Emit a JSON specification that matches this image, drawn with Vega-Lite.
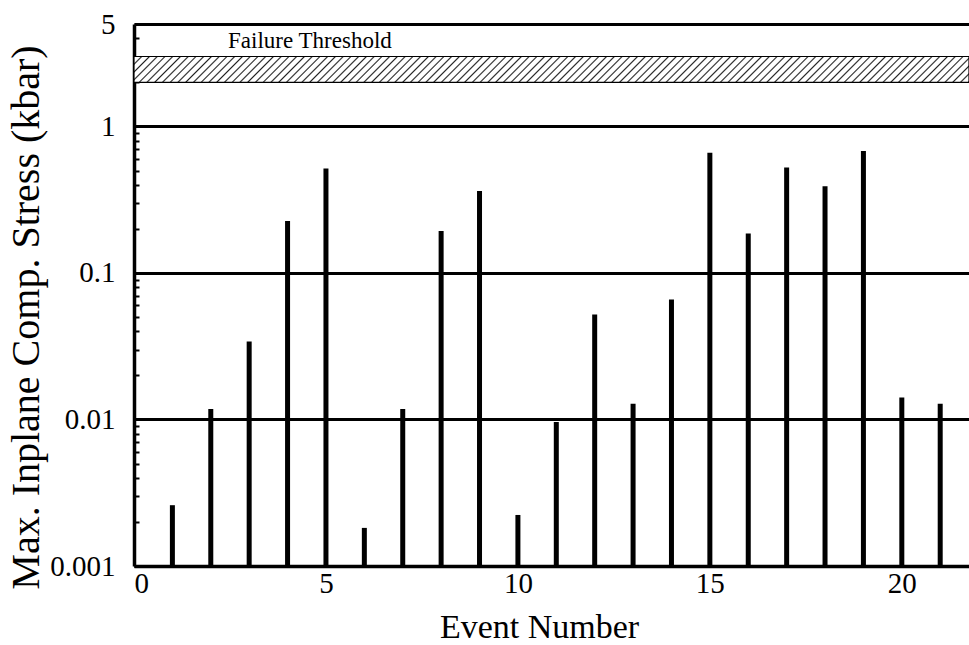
{
  "$schema": "https://vega.github.io/schema/vega-lite/v6.json",
  "width": 835,
  "height": 542,
  "autosize": {"type": "none"},
  "padding": {"left": 134, "top": 24, "right": 0, "bottom": 79},
  "config": {"view": {"stroke": null}, "font": "Liberation Serif"},
  "data": {"values": [
    {"event": 1, "stress": 0.0026},
    {"event": 2, "stress": 0.0118},
    {"event": 3, "stress": 0.034},
    {"event": 4, "stress": 0.226},
    {"event": 5, "stress": 0.517},
    {"event": 6, "stress": 0.00182},
    {"event": 7, "stress": 0.0118},
    {"event": 8, "stress": 0.193},
    {"event": 9, "stress": 0.362},
    {"event": 10, "stress": 0.00223},
    {"event": 11, "stress": 0.0096},
    {"event": 12, "stress": 0.052},
    {"event": 13, "stress": 0.0128},
    {"event": 14, "stress": 0.066},
    {"event": 15, "stress": 0.662},
    {"event": 16, "stress": 0.186},
    {"event": 17, "stress": 0.525},
    {"event": 18, "stress": 0.391},
    {"event": 19, "stress": 0.679},
    {"event": 20, "stress": 0.0141},
    {"event": 21, "stress": 0.0128}
  ]},
  "layer": [
    {
      "mark": {"type": "rule", "strokeWidth": 5, "color": "black", "strokeCap": "butt"},
      "encoding": {
        "x": {
          "field": "event", "type": "quantitative",
          "scale": {"domain": [0, 21.75], "nice": false, "zero": false},
          "axis": {
            "title": "Event Number", "values": [0, 5, 10, 15, 20], "ticks": false, "grid": false,
            "domainColor": "black", "domainWidth": 3.5,
            "labelFontSize": 29, "labelColor": "black", "labelPadding": 3, "labelFont": "Liberation Serif",
            "titleFontSize": 34, "titleFontWeight": "normal", "titleColor": "black", "titleFont": "Liberation Serif",
            "titlePadding": 12, "titleX": 405
          }
        },
        "y": {
          "field": "stress", "type": "quantitative",
          "scale": {"type": "log", "domain": [0.001, 5], "nice": false},
          "axis": {
            "title": "Max. Inplane Comp. Stress (kbar)",
            "values": [0.001, 0.002, 0.003, 0.004, 0.005, 0.006, 0.007, 0.008, 0.009, 0.01, 0.02, 0.03, 0.04, 0.05, 0.06, 0.07, 0.08, 0.09, 0.1, 0.2, 0.3, 0.4, 0.5, 0.6, 0.7, 0.8, 0.9, 1, 2, 3, 4, 5],
            "labelExpr": "indexof([0.001, 0.01, 0.1, 1, 5], datum.value) >= 0 ? '' + datum.value : ''",
            "tickSize": -5, "tickWidth": 2, "tickColor": "black",
            "grid": true, "gridColor": "black", "gridWidth": 3,
            "gridOpacity": {"condition": {"test": "indexof([0.001, 0.01, 0.1, 1, 5], datum.value) >= 0", "value": 1}, "value": 0},
            "domainColor": "black", "domainWidth": 3.5,
            "labelFontSize": 29, "labelColor": "black", "labelPadding": 24, "labelFont": "Liberation Serif",
            "titleFontSize": 40, "titleFontWeight": "normal", "titleColor": "black", "titleFont": "Liberation Serif",
            "titlePadding": 3, "titleY": 293
          }
        },
        "y2": {"datum": 0.001}
      }
    },
    {
      "data": {"values": [{"lo": 2, "hi": 3}]},
      "mark": {"type": "rect", "stroke": "black", "strokeWidth": 1.2, "fill": {"gradient": "linear", "x1": 0, "y1": 0, "x2": 1.03, "y2": 0.0318, "stops": [
        {"offset":0,"color":"#222"},{"offset":0.0018,"color":"#fff"},{"offset":0.0072,"color":"#fff"},
        {"offset":0.009,"color":"#222"},{"offset":0.0108,"color":"#fff"},{"offset":0.0162,"color":"#fff"},
        {"offset":0.018,"color":"#222"},{"offset":0.0198,"color":"#fff"},{"offset":0.0252,"color":"#fff"},
        {"offset":0.027,"color":"#222"},{"offset":0.0288,"color":"#fff"},{"offset":0.0342,"color":"#fff"},
        {"offset":0.036,"color":"#222"},{"offset":0.0378,"color":"#fff"},{"offset":0.0432,"color":"#fff"},
        {"offset":0.045,"color":"#222"},{"offset":0.0468,"color":"#fff"},{"offset":0.0522,"color":"#fff"},
        {"offset":0.054,"color":"#222"},{"offset":0.0558,"color":"#fff"},{"offset":0.0612,"color":"#fff"},
        {"offset":0.063,"color":"#222"},{"offset":0.0648,"color":"#fff"},{"offset":0.0702,"color":"#fff"},
        {"offset":0.072,"color":"#222"},{"offset":0.0738,"color":"#fff"},{"offset":0.0792,"color":"#fff"},
        {"offset":0.081,"color":"#222"},{"offset":0.0828,"color":"#fff"},{"offset":0.0882,"color":"#fff"},
        {"offset":0.09,"color":"#222"},{"offset":0.0918,"color":"#fff"},{"offset":0.0972,"color":"#fff"},
        {"offset":0.099,"color":"#222"},{"offset":0.1008,"color":"#fff"},{"offset":0.1062,"color":"#fff"},
        {"offset":0.108,"color":"#222"},{"offset":0.1098,"color":"#fff"},{"offset":0.1152,"color":"#fff"},
        {"offset":0.117,"color":"#222"},{"offset":0.1188,"color":"#fff"},{"offset":0.1242,"color":"#fff"},
        {"offset":0.126,"color":"#222"},{"offset":0.1278,"color":"#fff"},{"offset":0.1332,"color":"#fff"},
        {"offset":0.135,"color":"#222"},{"offset":0.1368,"color":"#fff"},{"offset":0.1422,"color":"#fff"},
        {"offset":0.144,"color":"#222"},{"offset":0.1458,"color":"#fff"},{"offset":0.1512,"color":"#fff"},
        {"offset":0.153,"color":"#222"},{"offset":0.1548,"color":"#fff"},{"offset":0.1602,"color":"#fff"},
        {"offset":0.162,"color":"#222"},{"offset":0.1638,"color":"#fff"},{"offset":0.1692,"color":"#fff"},
        {"offset":0.171,"color":"#222"},{"offset":0.1728,"color":"#fff"},{"offset":0.1782,"color":"#fff"},
        {"offset":0.18,"color":"#222"},{"offset":0.1818,"color":"#fff"},{"offset":0.1872,"color":"#fff"},
        {"offset":0.189,"color":"#222"},{"offset":0.1908,"color":"#fff"},{"offset":0.1962,"color":"#fff"},
        {"offset":0.198,"color":"#222"},{"offset":0.1998,"color":"#fff"},{"offset":0.2052,"color":"#fff"},
        {"offset":0.207,"color":"#222"},{"offset":0.2088,"color":"#fff"},{"offset":0.2142,"color":"#fff"},
        {"offset":0.216,"color":"#222"},{"offset":0.2178,"color":"#fff"},{"offset":0.2232,"color":"#fff"},
        {"offset":0.225,"color":"#222"},{"offset":0.2268,"color":"#fff"},{"offset":0.2322,"color":"#fff"},
        {"offset":0.234,"color":"#222"},{"offset":0.2358,"color":"#fff"},{"offset":0.2412,"color":"#fff"},
        {"offset":0.243,"color":"#222"},{"offset":0.2448,"color":"#fff"},{"offset":0.2502,"color":"#fff"},
        {"offset":0.252,"color":"#222"},{"offset":0.2538,"color":"#fff"},{"offset":0.2592,"color":"#fff"},
        {"offset":0.261,"color":"#222"},{"offset":0.2628,"color":"#fff"},{"offset":0.2682,"color":"#fff"},
        {"offset":0.27,"color":"#222"},{"offset":0.2718,"color":"#fff"},{"offset":0.2772,"color":"#fff"},
        {"offset":0.279,"color":"#222"},{"offset":0.2808,"color":"#fff"},{"offset":0.2862,"color":"#fff"},
        {"offset":0.288,"color":"#222"},{"offset":0.2898,"color":"#fff"},{"offset":0.2952,"color":"#fff"},
        {"offset":0.297,"color":"#222"},{"offset":0.2988,"color":"#fff"},{"offset":0.3042,"color":"#fff"},
        {"offset":0.306,"color":"#222"},{"offset":0.3078,"color":"#fff"},{"offset":0.3132,"color":"#fff"},
        {"offset":0.315,"color":"#222"},{"offset":0.3168,"color":"#fff"},{"offset":0.3222,"color":"#fff"},
        {"offset":0.324,"color":"#222"},{"offset":0.3258,"color":"#fff"},{"offset":0.3312,"color":"#fff"},
        {"offset":0.333,"color":"#222"},{"offset":0.3348,"color":"#fff"},{"offset":0.3402,"color":"#fff"},
        {"offset":0.342,"color":"#222"},{"offset":0.3438,"color":"#fff"},{"offset":0.3492,"color":"#fff"},
        {"offset":0.351,"color":"#222"},{"offset":0.3528,"color":"#fff"},{"offset":0.3582,"color":"#fff"},
        {"offset":0.36,"color":"#222"},{"offset":0.3618,"color":"#fff"},{"offset":0.3672,"color":"#fff"},
        {"offset":0.369,"color":"#222"},{"offset":0.3708,"color":"#fff"},{"offset":0.3762,"color":"#fff"},
        {"offset":0.378,"color":"#222"},{"offset":0.3798,"color":"#fff"},{"offset":0.3852,"color":"#fff"},
        {"offset":0.387,"color":"#222"},{"offset":0.3888,"color":"#fff"},{"offset":0.3942,"color":"#fff"},
        {"offset":0.396,"color":"#222"},{"offset":0.3978,"color":"#fff"},{"offset":0.4032,"color":"#fff"},
        {"offset":0.405,"color":"#222"},{"offset":0.4068,"color":"#fff"},{"offset":0.4122,"color":"#fff"},
        {"offset":0.414,"color":"#222"},{"offset":0.4158,"color":"#fff"},{"offset":0.4212,"color":"#fff"},
        {"offset":0.423,"color":"#222"},{"offset":0.4248,"color":"#fff"},{"offset":0.4302,"color":"#fff"},
        {"offset":0.432,"color":"#222"},{"offset":0.4338,"color":"#fff"},{"offset":0.4392,"color":"#fff"},
        {"offset":0.441,"color":"#222"},{"offset":0.4428,"color":"#fff"},{"offset":0.4482,"color":"#fff"},
        {"offset":0.45,"color":"#222"},{"offset":0.4518,"color":"#fff"},{"offset":0.4572,"color":"#fff"},
        {"offset":0.459,"color":"#222"},{"offset":0.4608,"color":"#fff"},{"offset":0.4662,"color":"#fff"},
        {"offset":0.468,"color":"#222"},{"offset":0.4698,"color":"#fff"},{"offset":0.4752,"color":"#fff"},
        {"offset":0.477,"color":"#222"},{"offset":0.4788,"color":"#fff"},{"offset":0.4842,"color":"#fff"},
        {"offset":0.486,"color":"#222"},{"offset":0.4878,"color":"#fff"},{"offset":0.4932,"color":"#fff"},
        {"offset":0.495,"color":"#222"},{"offset":0.4968,"color":"#fff"},{"offset":0.5022,"color":"#fff"},
        {"offset":0.504,"color":"#222"},{"offset":0.5058,"color":"#fff"},{"offset":0.5112,"color":"#fff"},
        {"offset":0.513,"color":"#222"},{"offset":0.5148,"color":"#fff"},{"offset":0.5202,"color":"#fff"},
        {"offset":0.522,"color":"#222"},{"offset":0.5238,"color":"#fff"},{"offset":0.5292,"color":"#fff"},
        {"offset":0.531,"color":"#222"},{"offset":0.5328,"color":"#fff"},{"offset":0.5382,"color":"#fff"},
        {"offset":0.54,"color":"#222"},{"offset":0.5418,"color":"#fff"},{"offset":0.5472,"color":"#fff"},
        {"offset":0.549,"color":"#222"},{"offset":0.5508,"color":"#fff"},{"offset":0.5562,"color":"#fff"},
        {"offset":0.558,"color":"#222"},{"offset":0.5598,"color":"#fff"},{"offset":0.5652,"color":"#fff"},
        {"offset":0.567,"color":"#222"},{"offset":0.5688,"color":"#fff"},{"offset":0.5742,"color":"#fff"},
        {"offset":0.576,"color":"#222"},{"offset":0.5778,"color":"#fff"},{"offset":0.5832,"color":"#fff"},
        {"offset":0.585,"color":"#222"},{"offset":0.5868,"color":"#fff"},{"offset":0.5922,"color":"#fff"},
        {"offset":0.594,"color":"#222"},{"offset":0.5958,"color":"#fff"},{"offset":0.6012,"color":"#fff"},
        {"offset":0.603,"color":"#222"},{"offset":0.6048,"color":"#fff"},{"offset":0.6102,"color":"#fff"},
        {"offset":0.612,"color":"#222"},{"offset":0.6138,"color":"#fff"},{"offset":0.6192,"color":"#fff"},
        {"offset":0.621,"color":"#222"},{"offset":0.6228,"color":"#fff"},{"offset":0.6282,"color":"#fff"},
        {"offset":0.63,"color":"#222"},{"offset":0.6318,"color":"#fff"},{"offset":0.6372,"color":"#fff"},
        {"offset":0.639,"color":"#222"},{"offset":0.6408,"color":"#fff"},{"offset":0.6462,"color":"#fff"},
        {"offset":0.648,"color":"#222"},{"offset":0.6498,"color":"#fff"},{"offset":0.6552,"color":"#fff"},
        {"offset":0.657,"color":"#222"},{"offset":0.6588,"color":"#fff"},{"offset":0.6642,"color":"#fff"},
        {"offset":0.666,"color":"#222"},{"offset":0.6678,"color":"#fff"},{"offset":0.6732,"color":"#fff"},
        {"offset":0.675,"color":"#222"},{"offset":0.6768,"color":"#fff"},{"offset":0.6822,"color":"#fff"},
        {"offset":0.684,"color":"#222"},{"offset":0.6858,"color":"#fff"},{"offset":0.6912,"color":"#fff"},
        {"offset":0.693,"color":"#222"},{"offset":0.6948,"color":"#fff"},{"offset":0.7002,"color":"#fff"},
        {"offset":0.702,"color":"#222"},{"offset":0.7038,"color":"#fff"},{"offset":0.7092,"color":"#fff"},
        {"offset":0.711,"color":"#222"},{"offset":0.7128,"color":"#fff"},{"offset":0.7182,"color":"#fff"},
        {"offset":0.72,"color":"#222"},{"offset":0.7218,"color":"#fff"},{"offset":0.7272,"color":"#fff"},
        {"offset":0.729,"color":"#222"},{"offset":0.7308,"color":"#fff"},{"offset":0.7362,"color":"#fff"},
        {"offset":0.738,"color":"#222"},{"offset":0.7398,"color":"#fff"},{"offset":0.7452,"color":"#fff"},
        {"offset":0.747,"color":"#222"},{"offset":0.7488,"color":"#fff"},{"offset":0.7542,"color":"#fff"},
        {"offset":0.756,"color":"#222"},{"offset":0.7578,"color":"#fff"},{"offset":0.7632,"color":"#fff"},
        {"offset":0.765,"color":"#222"},{"offset":0.7668,"color":"#fff"},{"offset":0.7722,"color":"#fff"},
        {"offset":0.774,"color":"#222"},{"offset":0.7758,"color":"#fff"},{"offset":0.7812,"color":"#fff"},
        {"offset":0.783,"color":"#222"},{"offset":0.7848,"color":"#fff"},{"offset":0.7902,"color":"#fff"},
        {"offset":0.792,"color":"#222"},{"offset":0.7938,"color":"#fff"},{"offset":0.7992,"color":"#fff"},
        {"offset":0.801,"color":"#222"},{"offset":0.8028,"color":"#fff"},{"offset":0.8082,"color":"#fff"},
        {"offset":0.81,"color":"#222"},{"offset":0.8118,"color":"#fff"},{"offset":0.8172,"color":"#fff"},
        {"offset":0.819,"color":"#222"},{"offset":0.8208,"color":"#fff"},{"offset":0.8262,"color":"#fff"},
        {"offset":0.828,"color":"#222"},{"offset":0.8298,"color":"#fff"},{"offset":0.8352,"color":"#fff"},
        {"offset":0.837,"color":"#222"},{"offset":0.8388,"color":"#fff"},{"offset":0.8442,"color":"#fff"},
        {"offset":0.846,"color":"#222"},{"offset":0.8478,"color":"#fff"},{"offset":0.8532,"color":"#fff"},
        {"offset":0.855,"color":"#222"},{"offset":0.8568,"color":"#fff"},{"offset":0.8622,"color":"#fff"},
        {"offset":0.864,"color":"#222"},{"offset":0.8658,"color":"#fff"},{"offset":0.8712,"color":"#fff"},
        {"offset":0.873,"color":"#222"},{"offset":0.8748,"color":"#fff"},{"offset":0.8802,"color":"#fff"},
        {"offset":0.882,"color":"#222"},{"offset":0.8838,"color":"#fff"},{"offset":0.8892,"color":"#fff"},
        {"offset":0.891,"color":"#222"},{"offset":0.8928,"color":"#fff"},{"offset":0.8982,"color":"#fff"},
        {"offset":0.9,"color":"#222"},{"offset":0.9018,"color":"#fff"},{"offset":0.9072,"color":"#fff"},
        {"offset":0.909,"color":"#222"},{"offset":0.9108,"color":"#fff"},{"offset":0.9162,"color":"#fff"},
        {"offset":0.918,"color":"#222"},{"offset":0.9198,"color":"#fff"},{"offset":0.9252,"color":"#fff"},
        {"offset":0.927,"color":"#222"},{"offset":0.9288,"color":"#fff"},{"offset":0.9342,"color":"#fff"},
        {"offset":0.936,"color":"#222"},{"offset":0.9378,"color":"#fff"},{"offset":0.9432,"color":"#fff"},
        {"offset":0.945,"color":"#222"},{"offset":0.9468,"color":"#fff"},{"offset":0.9522,"color":"#fff"},
        {"offset":0.954,"color":"#222"},{"offset":0.9558,"color":"#fff"},{"offset":0.9612,"color":"#fff"},
        {"offset":0.963,"color":"#222"},{"offset":0.9648,"color":"#fff"},{"offset":0.9702,"color":"#fff"},
        {"offset":0.972,"color":"#222"},{"offset":0.9738,"color":"#fff"},{"offset":0.9792,"color":"#fff"},
        {"offset":0.981,"color":"#222"},{"offset":0.9828,"color":"#fff"},{"offset":0.9882,"color":"#fff"},
        {"offset":0.99,"color":"#222"},{"offset":0.9918,"color":"#fff"},{"offset":0.9972,"color":"#fff"},
        {"offset":0.999,"color":"#222"},{"offset":1,"color":"#888"}
      ]}},
      "encoding": {
        "x": {"datum": 0, "type": "quantitative"},
        "x2": {"datum": 21.75},
        "y": {"field": "lo", "type": "quantitative"},
        "y2": {"field": "hi"}
      }
    },
    {
      "data": {"values": [{"label": "Failure Threshold"}]},
      "mark": {"type": "text", "align": "left", "baseline": "middle", "fontSize": 23, "font": "Liberation Serif", "color": "black"},
      "encoding": {
        "x": {"datum": 2.45, "type": "quantitative"},
        "y": {"datum": 3.82, "type": "quantitative"},
        "text": {"field": "label"}
      }
    }
  ]
}
